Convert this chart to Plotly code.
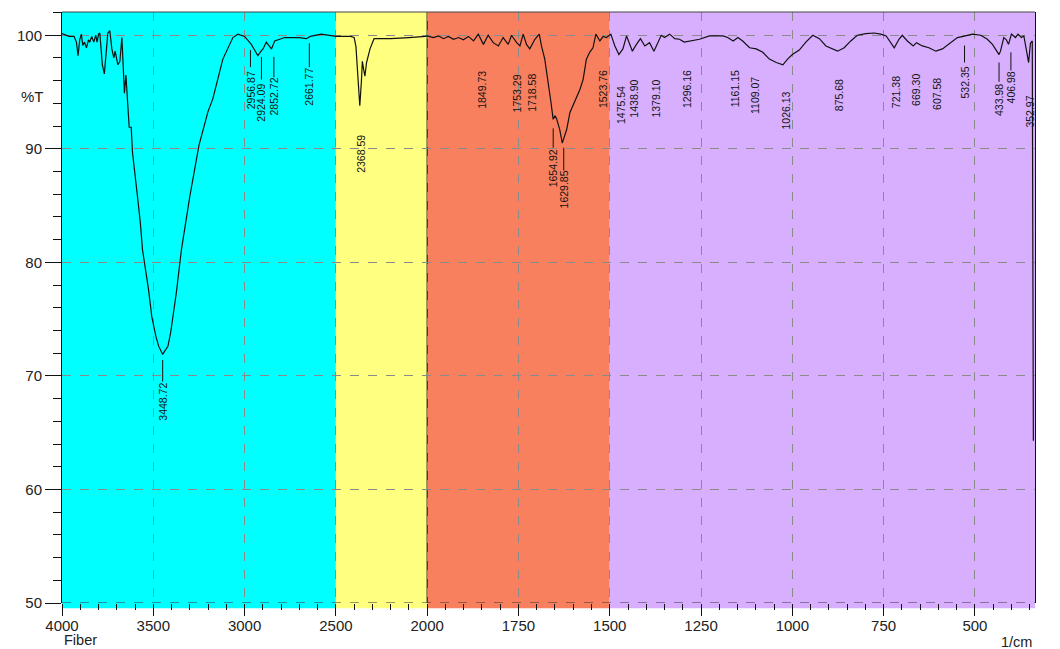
import numpy as np
import plotly.graph_objects as go

# ---------------- data ----------------
wavenumber = [
    4000, 3962, 3934, 3921, 3912, 3903, 3894, 3886, 3877, 3866, 3855, 3848, 3837, 3826, 3815, 3808,
    3800, 3793, 3786, 3779, 3768, 3760, 3749, 3738, 3727, 3716, 3709, 3694, 3683, 3672, 3665, 3658,
    3650, 3643, 3632, 3621, 3614, 3588, 3571, 3559, 3526, 3508, 3486, 3470, 3449, 3420, 3405, 3374,
    3346, 3300, 3250, 3200, 3174, 3119, 3064, 3037, 3000, 2963, 2956, 2940, 2927, 2910, 2899, 2881,
    2865, 2853, 2835, 2780, 2700, 2662, 2640, 2580, 2500, 2420, 2400, 2390, 2380, 2369, 2360, 2355,
    2348, 2341, 2332, 2313, 2291, 2200, 2100, 2030, 2010,
    2001, 1983, 1969, 1955, 1942, 1928, 1914, 1901, 1887, 1873, 1860, 1846, 1833, 1819, 1805, 1792,
    1778, 1769, 1755, 1746, 1737, 1728, 1719, 1705, 1693, 1687, 1678, 1669, 1661, 1655, 1650, 1646,
    1637, 1630, 1618, 1609, 1596, 1582, 1573, 1564, 1555, 1546, 1538, 1527, 1518, 1509, 1497, 1486,
    1475, 1464, 1454, 1445, 1438, 1427, 1416, 1404, 1391, 1379, 1368, 1359, 1350, 1336, 1322, 1309,
    1296, 1277, 1254, 1227, 1190, 1177, 1162, 1149, 1136, 1117, 1109, 1099, 1081, 1063, 1044, 1026,
    1013, 1000, 981, 963, 944, 926, 908, 890, 876, 858, 840, 822, 799, 776, 758, 743,
    730, 721, 708, 699, 685, 669, 660, 644, 626, 607, 589, 567, 548, 532, 521, 507,
    484, 466, 452, 434, 430, 421, 414, 408, 400, 389, 382, 373, 366, 360, 353, 348,
    343, 340,
]
transmittance = [
    100.15, 99.9, 99.9, 99.4, 98.2, 99.6, 100.1, 99.1, 99.4, 98.9, 99.6, 99.4, 99.9, 99.4, 100.0, 99.4,
    100.1, 100.2, 98.8, 97.4, 96.6, 97.9, 100.2, 100.4, 98.8, 98.0, 98.6, 97.4, 97.7, 99.8, 97.3, 94.9,
    96.5, 94.4, 91.9, 91.9, 89.7, 86.0, 83.5, 81.1, 77.6, 75.2, 73.5, 72.6, 71.9, 72.6, 73.8, 77.3,
    81.1, 85.8, 90.3, 93.3, 94.4, 97.9, 99.8, 100.1, 99.9, 99.2, 99.0, 98.6, 98.2, 98.6, 98.8, 99.4,
    99.1, 98.8, 99.5, 99.8, 99.8, 99.7, 99.9, 100.1, 99.9, 99.9, 99.8, 99.0, 96.5, 93.8, 96.0, 97.7,
    97.0, 96.4, 97.6, 98.8, 99.7, 99.7, 99.8, 99.85, 99.9,
    99.94, 99.8, 99.94, 99.7, 99.9, 99.65, 99.8, 99.6, 99.9, 99.5, 100.1, 99.2, 100.0, 99.35, 99.06, 99.8,
    99.2, 100.0, 99.35, 99.06, 100.1, 99.2, 98.8, 99.65, 100.1, 99.06, 97.9, 96.1, 94.1, 92.6, 92.9, 92.7,
    91.7, 90.5, 91.7, 93.2, 94.1, 95.2, 96.1, 97.9, 98.5, 98.9, 100.1, 99.5, 99.9, 99.8, 100.1, 99.06,
    98.3, 98.8, 99.94, 99.2, 98.6, 99.2, 99.7, 99.06, 99.35, 98.6, 99.35, 100.0, 99.8, 100.1, 99.7, 99.65,
    99.4, 99.5, 99.65, 99.94, 99.94, 99.8, 99.5, 99.8, 99.5, 98.9, 98.85, 98.8, 98.5, 97.9, 97.6, 97.4,
    97.9, 98.3, 98.7, 99.4, 100.0, 99.7, 99.06, 98.8, 98.6, 98.9, 99.5, 100.0, 100.15, 100.2, 100.1, 99.94,
    99.35, 98.9, 99.65, 100.0, 99.5, 99.06, 99.35, 99.06, 98.9, 98.6, 98.8, 99.35, 99.8, 99.9, 100.0, 100.1,
    100.0, 99.65, 99.2, 98.3, 98.6, 99.8, 99.6, 99.2, 100.1, 99.8, 100.1, 99.8, 99.94, 98.8, 97.6, 99.3,
    99.5, 64.3,
]

peak_labels = ["3448.72", "2956.87", "2924.09", "2852.72", "2661.77", "2368.59", "1849.73",
               "1753.29", "1718.58", "1654.92", "1629.85", "1523.76", "1475.54", "1438.90",
               "1379.10", "1296.16", "1161.15", "1109.07", "1026.13", "875.68", "721.38",
               "669.30", "607.58", "532.35", "433.98", "406.98", "352.97"]
label_center_T = [67.7, 95.2, 94.1, 94.6, 95.5, 89.6, 95.2,
                  94.9, 94.9, 88.3, 86.4, 95.3, 93.9, 94.4,
                  94.4, 95.3, 95.3, 94.7, 93.4, 94.7, 95.0,
                  95.2, 94.8, 95.8, 94.3, 95.4, 93.3]
# small horizontal nudges of the labels (pixels, + = to the right)
label_dx_px = [0, -2, 3, 2.4, 3, 1.6, 0,
               0, 2.6, 0, 1.4, 1.4, 1.8, 1.7,
               1.8, 2.2, 1.2, 3, 3.5, 2, 2,
               3, 2, 1.4, 0, 2, 1.6]
# leader lines: label -> (top %T, bottom %T)
leaders = {
    "3448.72": (71.4, 69.5), "2956.87": (98.7, 97.2), "2924.09": (98.1, 96.1),
    "2852.72": (98.1, 96.3), "2661.77": (99.3, 97.2), "1654.92": (91.8, 90.1),
    "1629.85": (90.1, 88.1), "532.35": (99.1, 97.6), "433.98": (97.6, 95.9),
    "406.98": (98.5, 96.9),
}

x_tick_labels = [4000, 3500, 3000, 2500, 2000, 1750, 1500, 1250, 1000, 750, 500]
y_tick_labels = [50, 60, 70, 80, 90, 100]
bands = [(4000, 2500, "#00FFFF"), (2500, 2000, "#FFFF80"), (2000, 1500, "#F9805F"), (1500, 300, "#D8AFFF")]


# axis compresses 4000-2000 by a factor of 2 (standard IR presentation)
def tr(v):
    v = np.asarray(v, dtype=float)
    return np.where(v > 2000, 2000 + (v - 2000) / 2.0, v)


X_RIGHT = 335.5
PX_PER_UNIT = 973.5 / (3000 - X_RIGHT)
FONT = "Liberation Sans, Arial, sans-serif"

fig = go.Figure()

shapes = []
for a, b, c in bands:
    shapes.append(dict(type="rect", xref="x", yref="paper", x0=float(tr(a)), x1=max(float(tr(b)), X_RIGHT),
                       y0=-0.009, y1=1, fillcolor=c, line=dict(width=0), layer="below"))
shapes.append(dict(type="line", xref="x", yref="paper", x0=2000, x1=2000, y0=0, y1=1,
                   line=dict(color="#222", width=1.2), layer="between"))
shapes.append(dict(type="line", xref="paper", yref="y", x0=0, x1=1, y0=50, y1=50,
                   line=dict(color="#333", width=1, dash="dash"), layer="between"))
shapes.append(dict(type="line", xref="paper", yref="paper", x0=0, x1=1, y0=1, y1=1,
                   line=dict(color="#444", width=1)))

fig.add_trace(go.Scatter(x=tr(wavenumber), y=transmittance, mode="lines",
                         line=dict(color="#111", width=1.2), hoverinfo="skip", showlegend=False))

label_x = {lab: float(tr(float(lab))) - dx / PX_PER_UNIT for lab, dx in zip(peak_labels, label_dx_px)}

lx, ly = [], []
for lab, (t0, t1) in leaders.items():
    xv = label_x[lab]
    lx += [xv, xv, None]
    ly += [t0, t1, None]
fig.add_trace(go.Scatter(x=lx, y=ly, mode="lines", line=dict(color="#111", width=1),
                         hoverinfo="skip", showlegend=False))

annotations = []
for lab, yc in zip(peak_labels, label_center_T):
    annotations.append(dict(x=label_x[lab], y=yc, xref="x", yref="y", text=lab,
                            textangle=-90, showarrow=False, xanchor="center", yanchor="middle",
                            font=dict(family=FONT, size=10.5, color="#111")))
annotations.append(dict(x=(32 - 62) / 973.5, y=94.6, xref="paper", yref="y", text="%T",
                        showarrow=False, xanchor="center", yanchor="middle",
                        font=dict(family=FONT, size=15, color="#222")))
annotations.append(dict(x=(80.5 - 62) / 973.5, y=(603.4 - 640.5) / 591.4, xref="paper", yref="paper",
                        text="Fiber", showarrow=False, xanchor="center", yanchor="middle",
                        font=dict(family=FONT, size=14.5, color="#222")))
annotations.append(dict(x=(1017 - 62) / 973.5, y=(603.4 - 642) / 591.4, xref="paper", yref="paper",
                        text="1/cm", showarrow=False, xanchor="center", yanchor="middle",
                        font=dict(family=FONT, size=14.5, color="#222")))

minor_x = [float(v) for v in np.arange(3000, 340, -50)]

# page body has an 8px margin, so the figure is sized/offset to compensate
fig.update_layout(
    width=1052, height=641,
    margin=dict(l=54, r=24.5, t=4, b=45.6),
    paper_bgcolor="white", plot_bgcolor="white",
    shapes=shapes, annotations=annotations,
    font=dict(family=FONT, size=15, color="#222"),
    xaxis=dict(
        range=[3000, X_RIGHT], tickvals=[float(v) for v in tr(x_tick_labels)],
        ticktext=[str(v) for v in x_tick_labels],
        showgrid=True, gridcolor="#8a8a8a", griddash="dash", gridwidth=1,
        ticks="outside", ticklen=12, tickcolor="#111", tickwidth=1,
        ticklabelstandoff=-3,
        showline=False, zeroline=False,
        minor=dict(tickvals=minor_x, ticks="outside", ticklen=6, tickcolor="#111", showgrid=False),
        tickfont=dict(size=15, color="#222"),
    ),
    yaxis=dict(
        range=[50, 102.05], tickvals=y_tick_labels,
        showgrid=True, gridcolor="#8a8a8a", griddash="dash", gridwidth=1,
        ticks="outside", ticklen=16, tickcolor="#111", tickwidth=1,
        showline=True, linecolor="#111", linewidth=1, mirror=True, zeroline=False,
        minor=dict(dtick=2, tick0=50, ticks="outside", ticklen=8, tickcolor="#111", showgrid=False),
        tickfont=dict(size=15, color="#222"),
    ),
)

fig.write_html("out.html")
